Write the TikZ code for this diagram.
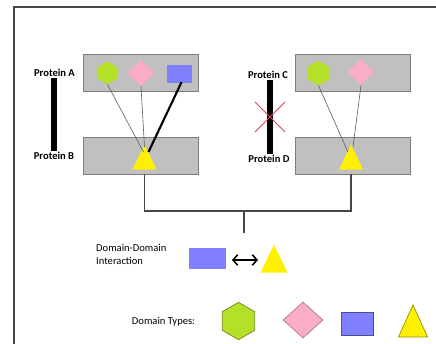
\documentclass[tikz,border=0pt]{standalone}
\usepackage{fontspec}
\setmainfont{Carlito}
\usetikzlibrary{shapes.geometric,arrows.meta}
\definecolor{hexgreen}{RGB}{180,225,40}
\definecolor{diapink}{RGB}{250,172,200}
\definecolor{sqblue}{RGB}{128,128,255}
\definecolor{triyellow}{RGB}{255,240,0}
\definecolor{boxgray}{RGB}{192,192,192}
\definecolor{boxline}{RGB}{125,125,125}
\definecolor{linegray}{RGB}{90,90,90}
\definecolor{framegray}{RGB}{70,70,70}
\definecolor{crossred}{RGB}{220,70,90}

\begin{document}
\begin{tikzpicture}[x=0.03cm,y=-0.03cm,
            font=\fontsize{9}{11}\selectfont,
            box/.style={draw=boxline,fill=boxgray,line width=0.6pt,minimum width=3.45cm,minimum height=1.11cm,inner sep=0pt},
            hexa/.style={regular polygon,regular polygon sides=6,shape border rotate=30,fill=hexgreen,inner sep=0pt},
            dia/.style={diamond,fill=diapink,inner sep=0pt},
            sq/.style={rectangle,fill=sqblue,inner sep=0pt},
            tri/.style={isosceles triangle,isosceles triangle stretches,shape border rotate=90,fill=triyellow,inner sep=0pt,anchor=apex},
            prot/.style={font=\fontsize{9}{11}\selectfont\bfseries,inner sep=1pt},
            bar/.style={line width=5pt,black},
            thin/.style={draw=linegray,line width=0.5pt}]
            \useasboundingbox (0,0) rectangle (436,344);
            \draw[framegray,line width=1.2pt] (436,7) -- (14,7) -- (14,344);

            \node[box] (boxA) at (140.5,72.5) {};
            \node[box] (boxB) at (140.5,155.5) {};
            \node[box] (boxC) at (352.5,72.5) {};
            \node[box] (boxD) at (352.5,155.5) {};

            \node[hexa,minimum size=0.68cm] (hexA) at (107.5,73) {};
            \node[dia,minimum size=0.81cm] (diaA) at (141,73) {};
            \node[sq,minimum width=0.75cm,minimum height=0.54cm] (sqA) at (179.5,74) {};
            \node[tri,minimum width=0.72cm,minimum height=0.75cm] (triB) at (144.5,144) {};

            \node[hexa,minimum size=0.74cm] (hexC) at (318.5,73) {};
            \node[dia,minimum size=0.78cm] (diaC) at (361,72) {};
            \node[tri,minimum width=0.72cm,minimum height=0.75cm] (triD) at (351,144) {};

            \draw[thin] (hexA.south) -- ([shift={(-1,8)}]triB.apex);
            \draw[thin] (diaA.south) -- ([shift={(0,3)}]triB.apex);
            \draw[line width=1.8pt] ([shift={(2,-1)}]sqA.south) -- ([shift={(4,8)}]triB.apex);
            \draw[thin] (hexC.south) -- ([shift={(-3,8)}]triD.apex);
            \draw[thin] (diaC.south) -- ([shift={(2,3)}]triD.apex);

            \node[prot] (protA) at (54.5,73) {Protein A};
            \node[prot] (protB) at (54,156) {Protein B};
            \node[prot] (protC) at (268,75) {Protein C};
            \node[prot] (protD) at (269,159) {Protein D};
            \draw[bar] (protA.south -| 54,0) -- (protB.north -| 54,0);
            \draw[bar] (protC.south -| 270,0) -- (protD.north -| 270,0);
            \coordinate (cut) at (270,117);
            \draw[crossred,line width=0.8pt] ([shift={(-15,-15)}]cut) -- ([shift={(15,15)}]cut);
            \draw[crossred,line width=0.8pt] ([shift={(15,-15)}]cut) -- ([shift={(-15,15)}]cut);

            \coordinate (join) at (244,211);
            \coordinate (joinend) at (244,233);
            \draw[framegray,line width=1pt] (triB.apex |- boxB.south) |- (join) -| (triD.apex |- boxD.south);
            \draw[framegray,line width=1pt] (join) -- (joinend);

            \node[anchor=west,align=left,inner sep=0pt] (ddi) at (96,254) {Domain-Domain\\Interaction};
            \node[sq,minimum width=1.11cm,minimum height=0.63cm] (sqI) at (207.5,258.5) {};
            \node[tri,minimum width=0.81cm,minimum height=0.84cm] (triI) at (274,244) {};
            \coordinate (arrend) at (258,260);
            \draw[{Straight Barb[length=4pt,width=9pt]}-{Straight Barb[length=4pt,width=9pt]},line width=1.3pt] (232,260) -- (arrend);

            \node (types) at (163.5,322) {Domain Types:};
            \node[hexa,draw=hexgreen!60!black,line width=0.6pt,minimum size=1.12cm] (hexT) at (238.5,321) {};
            \node[dia,draw=diapink!70!black,line width=0.6pt,minimum width=1.2cm,minimum height=1.08cm] (diaT) at (303,320) {};
            \node[sq,draw=sqblue!60!black,line width=0.6pt,minimum width=0.96cm,minimum height=0.69cm] (sqT) at (357,323.5) {};
            \node[tri,draw=triyellow!60!black,line width=0.6pt,minimum width=0.87cm,minimum height=0.96cm] (triT) at (413,304) {};
        \end{tikzpicture}
\end{document}
